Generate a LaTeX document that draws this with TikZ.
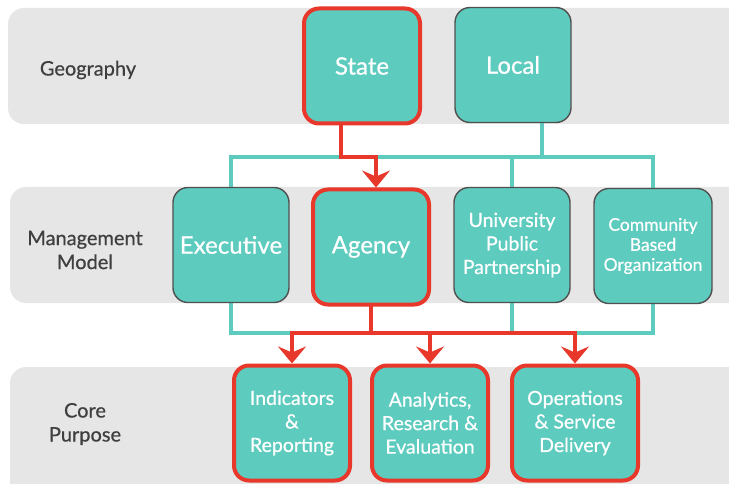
\documentclass[tikz,border=0pt]{standalone}
\usepackage{fontspec}
\setmainfont{Lato}[FakeBold=0.6]
\usetikzlibrary{arrows.meta}

\definecolor{boxteal}{HTML}{5DCBBE}
\definecolor{linkred}{HTML}{E8382B}
\definecolor{bandgray}{HTML}{E6E6E6}
\definecolor{edgegray}{HTML}{505050}
\definecolor{labelgray}{HTML}{3F3F3F}

\pgfdeclarelayer{bands}
\pgfdeclarelayer{links}
\pgfsetlayers{bands,links,main}

\tikzset{
  band/.style={fill=bandgray, rounded corners=16pt},
  rowlabel/.style={text=labelgray, font=\fontsize{20}{24}\selectfont, align=center},
  card/.style={draw=edgegray, line width=1.4pt, fill=boxteal, rounded corners=15pt,
    text=white, align=center, minimum width=116pt, minimum height=115pt, inner sep=0pt},
  chosen/.style={card, draw=linkred, line width=4pt},
  bigtext/.style={font=\fontsize{24}{28}\selectfont},
  midtext/.style={font=\fontsize{19.5}{23.5}\selectfont},
  smalltext/.style={font=\fontsize{17.5}{20}\selectfont},
  tealline/.style={draw=boxteal, line width=4pt, line cap=rect},
  redline/.style={draw=linkred, line width=4pt, line cap=rect},
  redarrow/.style={draw=linkred, line width=4pt,
    -{Stealth[length=17pt, width=28pt, inset=6pt]}},
}

\begin{document}
\begin{tikzpicture}[x=1pt,y=-1pt]
\useasboundingbox (0,0) rectangle (729,484);

% row bands
\begin{pgfonlayer}{bands}
  \begin{scope}
    \clip (0,0) rectangle (729,484);
    \fill[band] (8,8) rectangle (770,124);
    \fill[band] (10,187) rectangle (770,303);
    \fill[band] (10,367) rectangle (770,520);
  \end{scope}
\end{pgfonlayer}

% row labels
\node[rowlabel] (lgeo) at (88,70) {Geography};
\node[rowlabel] (lman) at (85,250) {Management\\Model};
\node[rowlabel] (lcore) at (85,424) {Core\\Purpose};

% geography
\node[chosen, bigtext] (state) at (362,66) {State};
\node[card, bigtext] (local) at (513,65) {Local};

% management models
\node[card, bigtext] (exec) at (231,245) {Executive};
\node[chosen, bigtext] (agency) at (371,247) {Agency};
\node[card, midtext] (univ) at (512,245) {University\\Public\\Partnership};
\node[card, smalltext, minimum width=118pt] (comm) at (653,246) {Community\\Based\\Organization};

% core purposes
\node[chosen, midtext] (ind) at (292,423) {Indicators\\\&\\Reporting};
\node[chosen, midtext] (ana) at (430,423) {Analytics,\\Research \&\\Evaluation};
\node[chosen, midtext, minimum width=126pt] (ops) at (575,423) {Operations\\\& Service\\Delivery};

% bus heights
\coordinate (tb) at (0,157);
\coordinate (bb) at (0,333);
\coordinate (sout) at ([xshift=-21pt]state.south);
\coordinate (ain) at ([xshift=5pt]agency.north);
\coordinate (lout) at ([xshift=29pt]local.south);

\begin{pgfonlayer}{links}
  % upper teal bus
  \draw[tealline] (exec.north) -- (exec.north |- tb) -- (comm.north |- tb) -- (comm.north);
  \draw[tealline] (univ.north) -- (univ.north |- tb);
  \draw[tealline] (lout) -- (lout |- tb);
  % lower teal bus
  \draw[tealline] (exec.south) -- (exec.south |- bb) -- (ind.north |- bb);
  \draw[tealline] (comm.south) -- (comm.south |- bb) -- (ops.north |- bb);
  \draw[tealline] (univ.south) -- (univ.south |- bb);
  % highlighted path
  \draw[redline] (sout) -- (sout |- tb) -- (ain |- tb);
  \draw[redarrow] (ain |- tb) -- (ain);
  \draw[redline] (agency.south) -- (agency.south |- bb);
  \draw[redline] (ind.north |- bb) -- (ops.north |- bb);
  \draw[redarrow] (ind.north |- bb) -- (ind.north);
  \draw[redarrow] (ana.north |- bb) -- (ana.north);
  \draw[redarrow] (ops.north |- bb) -- (ops.north);
\end{pgfonlayer}
\end{tikzpicture}
\end{document}
